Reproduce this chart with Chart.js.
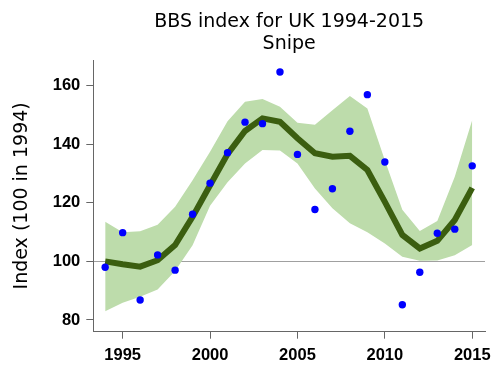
<!DOCTYPE html>
<html>
<head>
<meta charset="utf-8">
<script src="https://cdn.jsdelivr.net/npm/chart.js@4/dist/chart.umd.min.js"></script>
<style>
  html, body { margin: 0; padding: 0; background: #fff; }
  #wrap { width: 500px; height: 375px; }
</style>
</head>
<body>
<div id="wrap"><canvas id="c" width="500" height="375"></canvas></div>
<script>
const years = [1994,1995,1996,1997,1998,1999,2000,2001,2002,2003,2004,2005,2006,2007,2008,2009,2010,2011,2012,2013,2014,2015];
const observed = [98.0,109.8,86.8,102.2,97.0,116.1,126.7,137.1,147.5,147.0,164.6,136.5,117.7,124.8,144.4,156.9,133.9,85.2,96.3,109.6,111.0,132.6];
const trend = [100.0,99.0,98.2,100.4,105.6,115.2,126.0,136.6,144.5,148.8,147.6,142.0,136.9,135.7,136.0,131.2,120.3,109.0,104.4,107.0,114.1,125.1];
const upper = [113.5,109.9,110.3,112.5,118.6,127.7,137.4,147.8,154.5,155.4,152.8,147.3,146.6,151.6,156.4,152.2,134.5,117.6,110.4,113.8,128.9,148.2];
const lower = [83.0,85.9,87.9,90.4,96.7,105.5,119.0,127.0,133.4,138.0,137.8,133.4,124.9,118.1,113.0,109.9,106.1,101.6,100.2,100.3,102.1,105.6];
const xTicks = [1995,2000,2005,2010,2015];
const yTicks = [80,100,120,140,160];
const titleLines = ['BBS index for UK 1994-2015','Snipe'];
const yTitle = 'Index (100 in 1994)';

const pts = arr => years.map((y, i) => ({x: y, y: arr[i]}));

new Chart(document.getElementById('c'), {
  type: 'line',
  data: {
    datasets: [
      { data: pts(upper), borderWidth: 0, pointRadius: 0, fill: '+1', backgroundColor: '#bddcab', order: 3 },
      { data: pts(lower), borderWidth: 0, pointRadius: 0, fill: false, order: 3 },
      { data: pts(trend), borderColor: '#3b5e10', borderWidth: 6, pointRadius: 0, fill: false, tension: 0, borderJoinStyle: 'miter', order: 2 },
      { type: 'scatter', data: pts(observed), pointRadius: 3.7, pointBackgroundColor: '#0000ff', pointBorderWidth: 0, showLine: false, order: 1 }
    ]
  },
  options: {
    responsive: false,
    animation: false,
    devicePixelRatio: 1,
    layout: { padding: { left: 0, right: 15, top: 0, bottom: 0 } },
    plugins: {
      legend: { display: false },
      tooltip: { enabled: false },
      title: {
        display: true,
        text: titleLines,
        fullSize: false,
        color: '#000',
        font: { family: 'DejaVu Sans', size: 19, weight: 'normal', lineHeight: 1.175 },
        padding: { top: 11, bottom: 4.4 }
      }
    },
    scales: {
      x: {
        type: 'linear',
        min: 1993.32,
        max: 2015.73,
        afterBuildTicks: s => { s.ticks = xTicks.map(v => ({value: v})); },
        afterFit: s => { s.height = 43.3; },
        grid: { drawOnChartArea: false, drawTicks: true, tickLength: 7, color: '#666' },
        border: { display: true, color: '#666', width: 1 },
        ticks: {
          autoSkip: false, maxRotation: 0, padding: 7, color: '#000',
          font: { family: 'Liberation Sans', size: 16.5, weight: 'bold' },
          callback: v => String(v)
        }
      },
      y: {
        min: 76,
        max: 168.7,
        afterBuildTicks: s => { s.ticks = yTicks.map(v => ({value: v})); },
        afterFit: s => { s.width = 93.3; },
        grid: {
          drawOnChartArea: true, drawTicks: true, tickLength: 7,
          color: ctx => (ctx.tick && ctx.tick.value === 100) ? '#a0a0a0' : 'rgba(0,0,0,0)',
          tickColor: '#666'
        },
        border: { display: true, color: '#666', width: 1 },
        ticks: {
          padding: 6, color: '#000',
          font: { family: 'Liberation Sans', size: 16.5, weight: 'bold' },
          callback: v => String(v)
        },
        title: {
          display: true, text: yTitle, color: '#000',
          font: { family: 'DejaVu Sans', size: 19, weight: 'normal', lineHeight: 1.2 },
          padding: { top: 10.6, bottom: 0 }
        }
      }
    }
  }
});
</script>
</body>
</html>
